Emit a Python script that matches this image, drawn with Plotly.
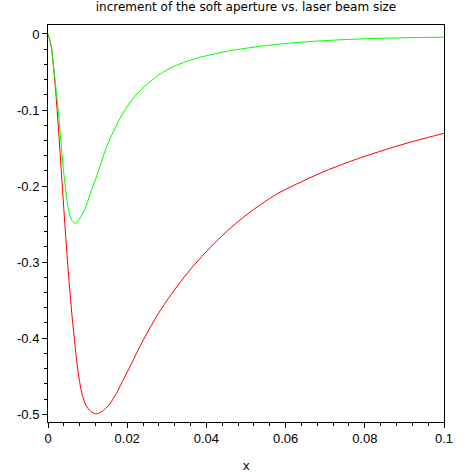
import plotly.graph_objects as go

# ---- data ----
red_x = [0, 0.00076, 0.00126, 0.00195, 0.00257, 0.00314, 0.00370, 0.00427, 0.00468, 0.00532,
         0.00604, 0.00690, 0.00738, 0.00797, 0.00890, 0.01005, 0.0121, 0.01462, 0.01655, 0.0188,
         0.0213, 0.0241, 0.0283, 0.0325, 0.0367, 0.0409, 0.0451, 0.0497, 0.054, 0.0581,
         0.0624, 0.0666, 0.0708, 0.075, 0.0792, 0.0834, 0.0876, 0.0918, 0.096, 0.1]
red_y = [0, -0.0145, -0.0364, -0.0758, -0.1196, -0.163, -0.207, -0.251, -0.2816, -0.3255,
         -0.369, -0.413, -0.435, -0.457, -0.479, -0.492, -0.4995, -0.492, -0.479, -0.457,
         -0.431, -0.402, -0.364, -0.3325, -0.3050, -0.2812, -0.2598, -0.2395, -0.2232, -0.2095,
         -0.1982, -0.1880, -0.1785, -0.1700, -0.1622, -0.1550, -0.1482, -0.1418, -0.1360, -0.1305]

green_x = [0, 0.00076, 0.00126, 0.00218, 0.0026, 0.00327, 0.00386, 0.00453, 0.00512, 0.0058,
           0.0064, 0.0068, 0.00747, 0.0083, 0.00958, 0.01084, 0.0121, 0.01336, 0.0142, 0.0154,
           0.01654, 0.0178, 0.01906, 0.02158, 0.0258, 0.030, 0.0359, 0.0443, 0.051, 0.0594,
           0.0678, 0.0762, 0.0846, 0.092, 0.1]
green_y = [0, -0.0145, -0.0364, -0.0802, -0.102, -0.1415, -0.1765, -0.2072, -0.229, -0.2422,
           -0.2475, -0.2490, -0.2466, -0.240, -0.2269, -0.2072, -0.1896, -0.170, -0.1568, -0.1410,
           -0.1280, -0.1148, -0.1030, -0.0840, -0.0627, -0.0473, -0.0345, -0.0237, -0.0180, -0.0128,
           -0.0094, -0.0071, -0.0056, -0.0048, -0.0042]

x_tick_vals = [0, 0.02, 0.04, 0.06, 0.08, 0.1]
x_tick_text = ["0", "0.02", "0.04", "0.06", "0.08", "0.1"]
y_tick_vals = [0, -0.1, -0.2, -0.3, -0.4, -0.5]
y_tick_text = ["0", "-0.1", "-0.2", "-0.3", "-0.4", "-0.5"]

title_text = "increment of the soft aperture vs. laser beam size"
x_title = "x"

FONT = "Liberation Sans, Arial, sans-serif"

fig = go.Figure()
fig.add_trace(go.Scatter(x=red_x, y=red_y, mode="lines",
                         line=dict(color="#ff0000", width=1, shape="spline", smoothing=1),
                         showlegend=False, hoverinfo="skip"))
fig.add_trace(go.Scatter(x=green_x, y=green_y, mode="lines",
                         line=dict(color="#00ff00", width=1, shape="spline", smoothing=1),
                         showlegend=False, hoverinfo="skip"))

axis_common = dict(showline=True, linecolor="black", linewidth=1, mirror=True,
                   showgrid=False, zeroline=False, ticks="outside", ticklen=5,
                   tickwidth=1, tickcolor="black", automargin=False,
                   tickfont=dict(family=FONT, size=13, color="black"))

fig.update_xaxes(range=[0, 0.1], tickvals=x_tick_vals, ticktext=x_tick_text,
                 ticklabelstandoff=-1,
                 minor=dict(ticks="outside", ticklen=3, dtick=0.004, tick0=0,
                            tickcolor="black", showgrid=False),
                 **axis_common)
fig.update_yaxes(range=[-0.5102, 0.0118], tickvals=y_tick_vals, ticktext=y_tick_text,
                 minor=dict(ticks="outside", ticklen=3, dtick=0.02, tick0=0,
                            tickcolor="black", showgrid=False),
                 **axis_common)

fig.add_annotation(text=x_title, xref="paper", yref="paper", x=0.5, y=-0.110,
                   xanchor="center", yanchor="middle", showarrow=False,
                   font=dict(family=FONT, size=13, color="black"))

fig.update_layout(
    width=473, height=473,
    margin=dict(l=48, r=29, t=25, b=51, pad=0),
    paper_bgcolor="white", plot_bgcolor="white",
    title=dict(text=title_text, x=0.5, xanchor="center", xref="paper",
               y=1 - 7 / 473, yref="container", yanchor="middle",
               font=dict(family="DejaVu Sans, sans-serif", size=12, color="black")),
)

fig.write_html("out.html")
